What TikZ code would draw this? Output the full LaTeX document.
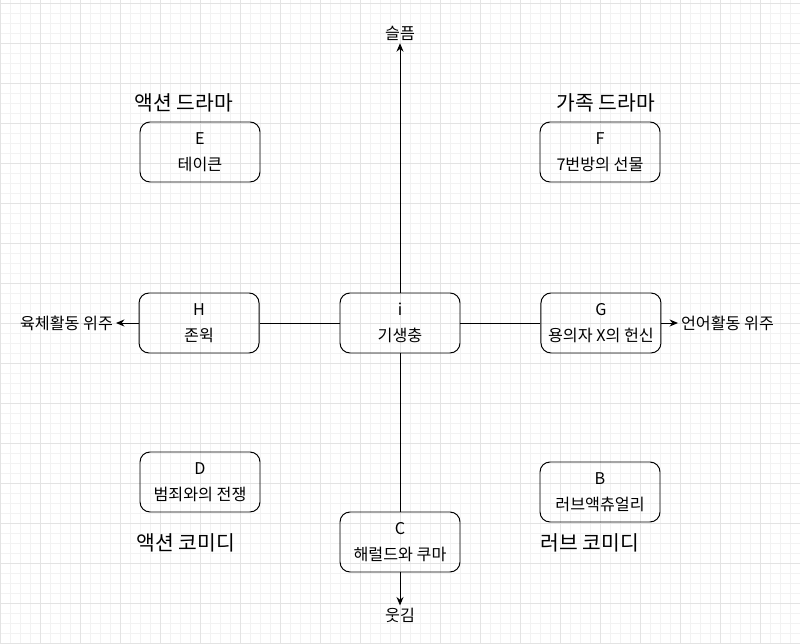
\documentclass[tikz,border=0pt]{standalone}
\usepackage{fontspec}
\setmainfont{Noto Sans CJK KR}
\usetikzlibrary{positioning}
\usetikzlibrary{arrows.meta}
\tikzset{
  movie/.style={draw, rounded corners=0.25cm, minimum width=3cm, minimum height=1.5cm, align=center, line width=0.7pt, font=\fontsize{11.5}{14}\selectfont},
  genre/.style={font=\fontsize{14.5}{17}\selectfont},
  axislabel/.style={font=\fontsize{11.5}{14}\selectfont, inner sep=2pt},
  axisline/.style={line width=0.7pt},
  axisarrow/.style={line width=0.7pt, -{Stealth[length=6pt,width=5pt]}},
}

\begin{document}
\begin{tikzpicture}
\useasboundingbox (0,0) rectangle (20,16.075);
% grid
\draw[black!5, line width=0.5pt] (0,0) grid[step=0.25] (20,16.075);
\draw[black!11, line width=0.6pt] (0,0) grid (20,16.075);

\node[movie] (i) at (10,8) {i\\[4.5pt]기생충};
\node[movie, left=2cm of i] (H) {H\\[4.5pt]존윅};
\node[movie, right=2cm of i] (G) {G\\[4.5pt]용의자 X의 헌신};
\node[movie] (E) at (5,12.275) {E\\[4.5pt]테이큰};
\node[movie] (F) at (15,12.275) {F\\[4.5pt]7번방의 선물};
\node[movie] (D) at (5,4.025) {D\\[4.5pt]범죄와의 전쟁};
\node[movie] (B) at (15,3.775) {B\\[4.5pt]러브액츄얼리};
\node[movie] (C) at (10,2.525) {C\\[4.5pt]해럴드와 쿠마};

% axis ends
\node[axislabel] (sad) at (10,15.25) {슬픔};
\node[axislabel] (funny) at (10,0.68) {웃김};
\node[axislabel, anchor=east] (physical) at (2.9,8) {육체활동 위주};
\node[axislabel, anchor=west] (verbal) at (16.95,8) {언어활동 위주};

\draw[axisarrow] (i) -- (sad);
\draw[axisline] (i) -- (C);
\draw[axisarrow] (C) -- (funny);
\draw[axisline] (i) -- (H);
\draw[axisarrow] (H) -- (physical);
\draw[axisline] (i) -- (G);
\draw[axisarrow] (G) -- (verbal);

% genres
\node[genre] (actdrama) at (4.6,13.5) {액션 드라마};
\node[genre] (famdrama) at (15.15,13.5) {가족 드라마};
\node[genre] (actcomedy) at (4.65,2.5) {액션 코미디};
\node[genre] (lovecomedy) at (14.75,2.5) {러브 코미디};
\end{tikzpicture}
\end{document}
